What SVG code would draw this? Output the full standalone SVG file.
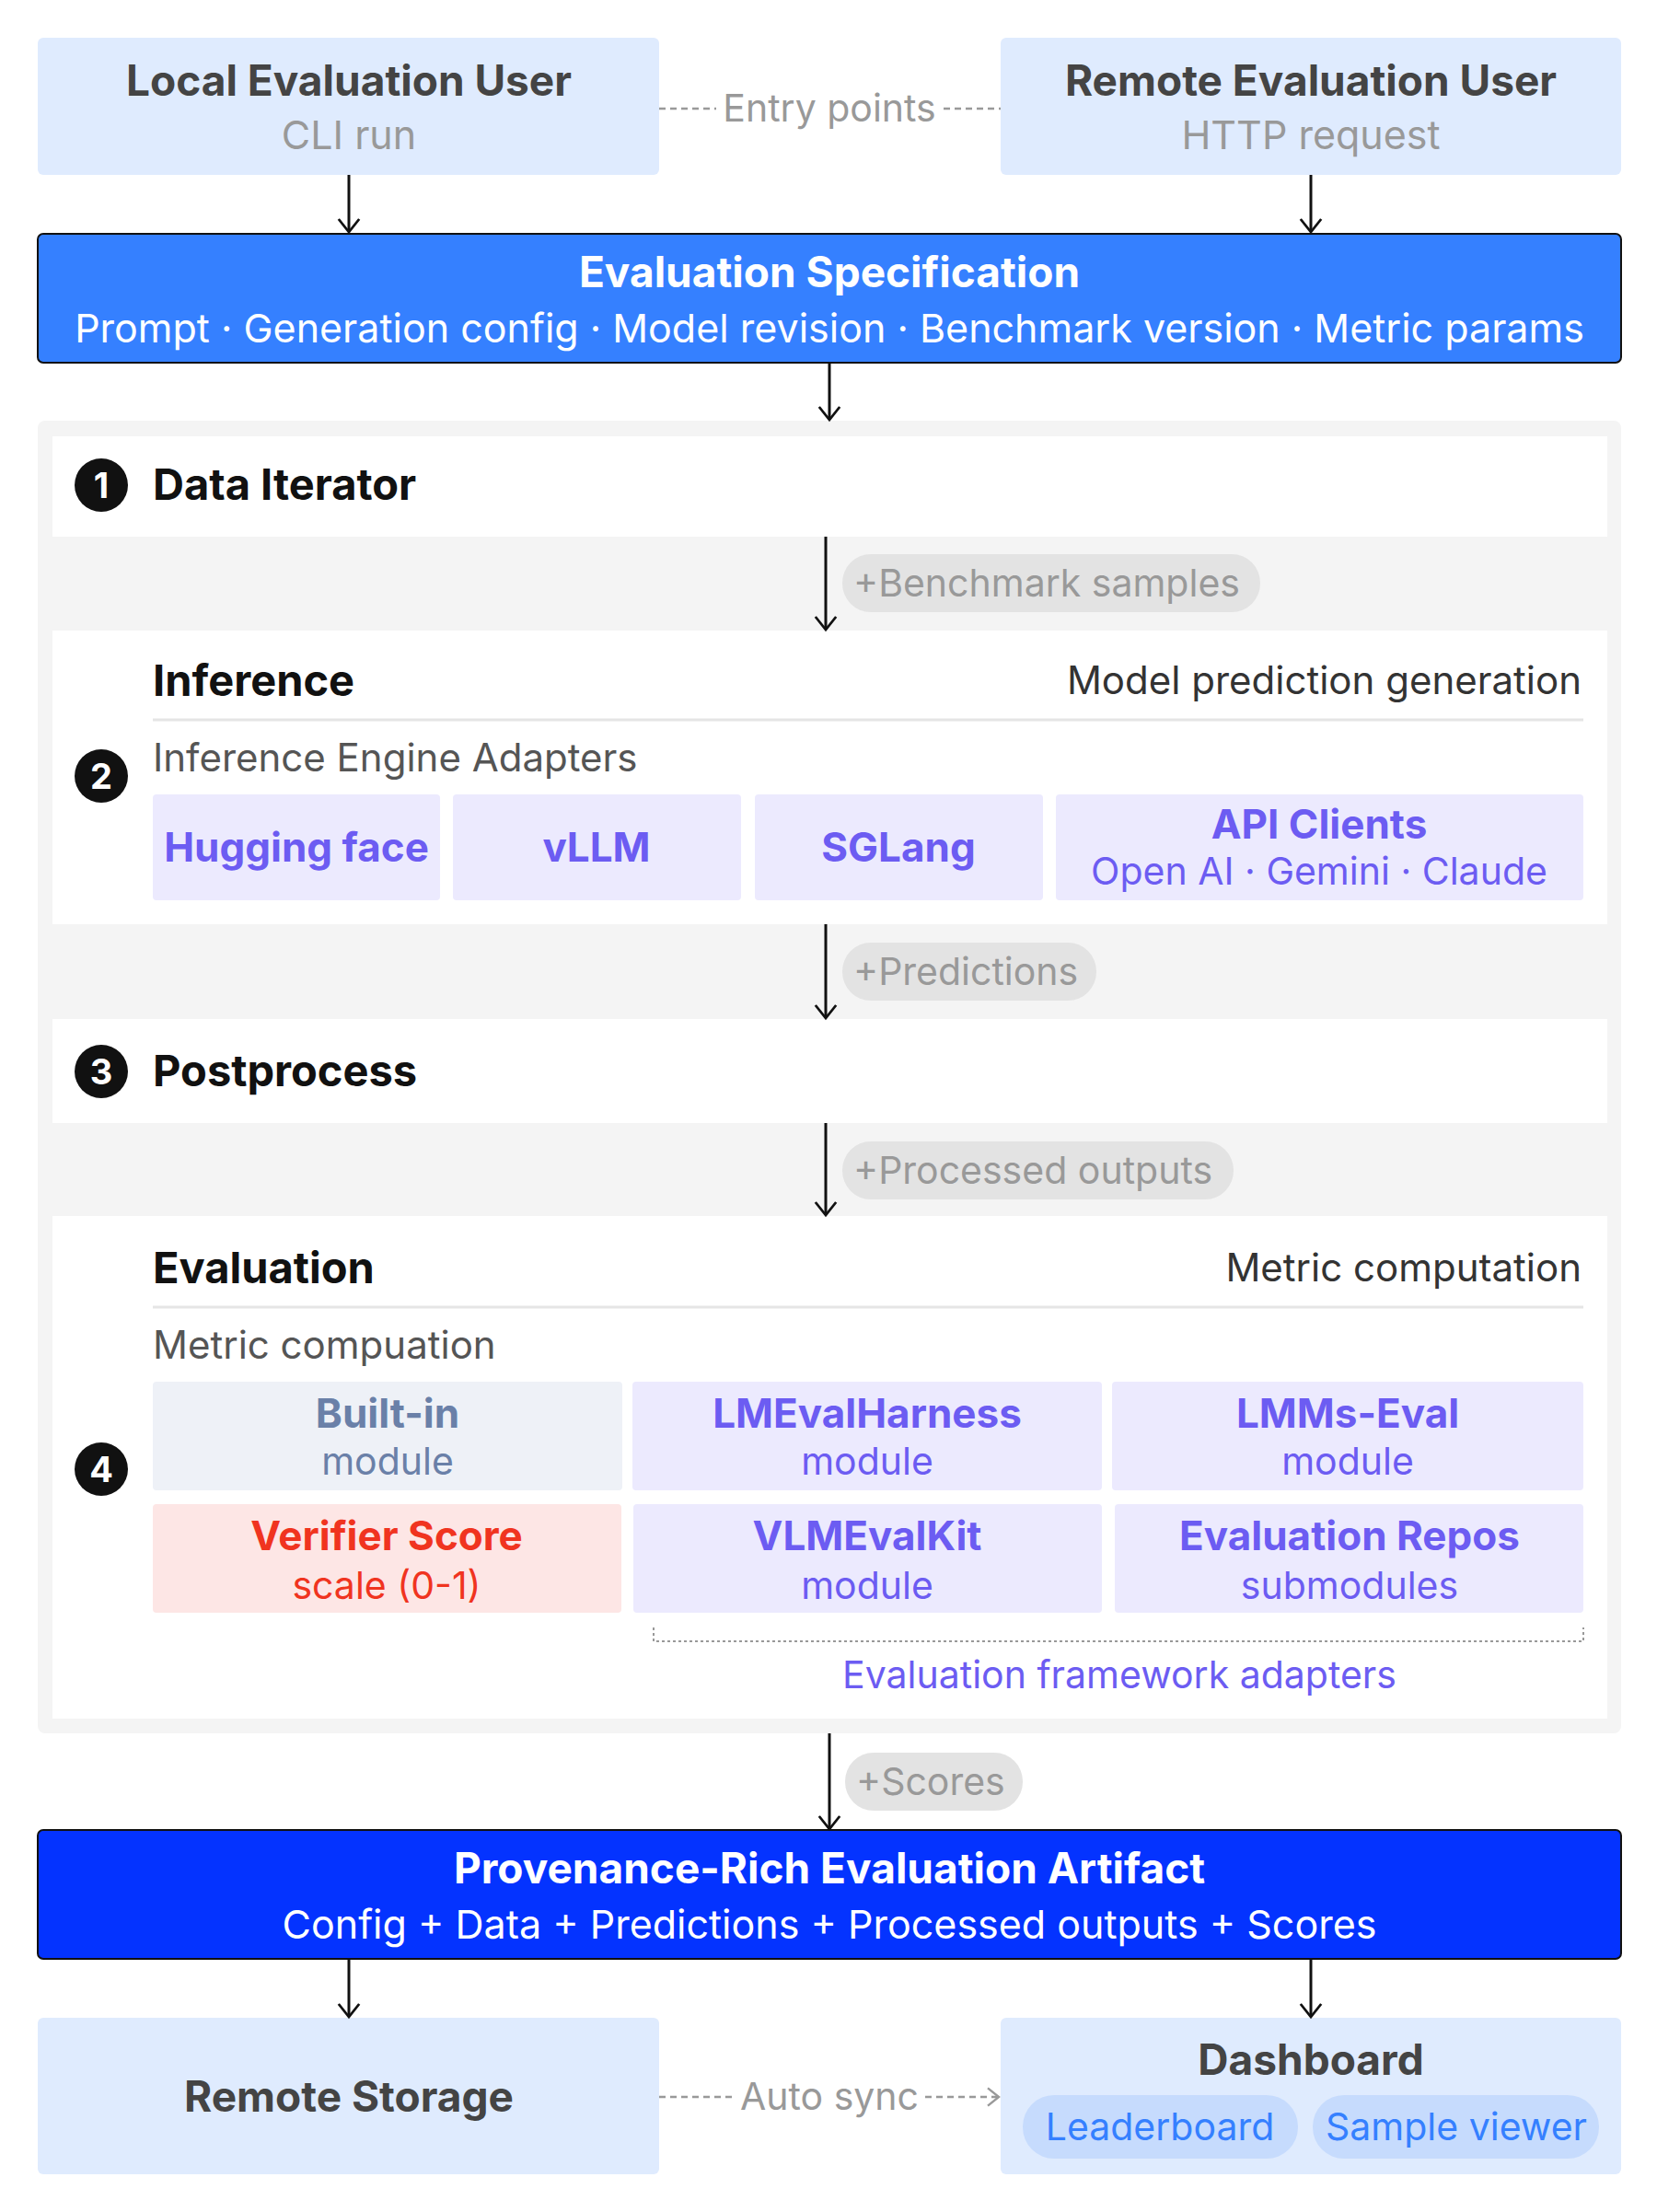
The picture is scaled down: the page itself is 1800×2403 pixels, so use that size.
<svg xmlns="http://www.w3.org/2000/svg" width="1800" height="2403" viewBox="0 0 1800 2403">
<defs>
<marker id="ah" viewBox="0 0 20 20" refX="18" refY="10" markerWidth="28" markerHeight="28" markerUnits="userSpaceOnUse" orient="auto">
<path d="M8,2 L18,10 L8,18" fill="none" stroke="#111" stroke-width="2"/>
</marker>
<marker id="ah2" viewBox="0 0 20 20" refX="18" refY="10" markerWidth="24" markerHeight="24" markerUnits="userSpaceOnUse" orient="auto">
<path d="M8,2 L18,10 L8,18" fill="none" stroke="#999" stroke-width="2"/>
</marker>
</defs>
<style>
text{font-family:Inter,"Noto Sans",sans-serif}
.t{font-size:46px;font-weight:700;fill:#444;text-anchor:middle}
.s{font-size:43px;fill:#999;text-anchor:middle}
.wt{font-size:46px;font-weight:700;fill:#fff;text-anchor:middle}
.ws{font-size:43px;fill:#fff;text-anchor:middle}
.h{font-size:47px;font-weight:700;fill:#111}
.r{font-size:42px;fill:#333;text-anchor:end}
.l{font-size:42px;fill:#555}
.user{fill:#DFEBFE}
.ad{fill:#ECEAFE}
.at{font-size:44px;font-weight:700;fill:#6C5CF2;text-anchor:middle}
.as{font-size:41px;fill:#6C5CF2;text-anchor:middle}
.pill{fill:#E3E3E3}
.pt{font-size:41px;fill:#999}
.arr{stroke:#111;stroke-width:3;fill:none;marker-end:url(#ah)}
.dash{stroke:#999;stroke-width:2.5;stroke-dasharray:7 5;fill:none}
.white{fill:#fff}
.num{font-size:38px;font-weight:700;fill:#fff;text-anchor:middle}
</style>
<g id="local-user"><rect class="user" x="41" y="41" width="675" height="149" rx="6"/><text class="t" x="379" y="104">Local Evaluation User</text><text class="s" x="379" y="162">CLI run</text></g>
<g id="remote-user"><rect class="user" x="1087" y="41" width="674" height="149" rx="6"/><text class="t" x="1424" y="104">Remote Evaluation User</text><text class="s" x="1424" y="162">HTTP request</text></g>
<g id="spec"><rect x="41" y="254" width="1720" height="140" rx="6" fill="#3580FF" stroke="#111" stroke-width="2"/><text class="wt" x="901" y="312">Evaluation Specification</text><text class="ws" x="901" y="372">Prompt ·  Generation config · Model revision · Benchmark version · Metric params</text></g>
<g id="pipeline"><rect x="41" y="457" width="1720" height="1426" rx="8" fill="#F4F4F4"/></g>
<g id="data-iterator"><rect class="white" x="57" y="474" width="1689" height="109"/><circle cx="110" cy="527" r="29" fill="#111"/><text class="num" x="110" y="541">1</text><text class="h" x="166" y="543">Data Iterator</text></g>
<g id="inference"><rect class="white" x="57" y="685" width="1689" height="319"/><text class="h" x="166" y="756">Inference</text><text class="r" x="1718" y="754">Model prediction generation</text><line x1="166" y1="782" x2="1720" y2="782" stroke="#E5E5E5" stroke-width="3"/><text class="l" x="166" y="838">Inference Engine Adapters</text><circle cx="110" cy="843" r="29" fill="#111"/><text class="num" x="110" y="857">2</text>
<rect class="ad" x="166" y="863" width="312" height="115" rx="4"/><text class="at" x="322" y="936">Hugging face</text>
<rect class="ad" x="492" y="863" width="313" height="115" rx="4"/><text class="at" x="648" y="936">vLLM</text>
<rect class="ad" x="820" y="863" width="313" height="115" rx="4"/><text class="at" x="976" y="936">SGLang</text>
<rect class="ad" x="1147" y="863" width="573" height="115" rx="4"/><text class="at" x="1433" y="911">API Clients</text><text class="as" x="1433" y="961">Open AI · Gemini · Claude</text></g>
<g id="postprocess"><rect class="white" x="57" y="1107" width="1689" height="113"/><circle cx="110" cy="1164" r="29" fill="#111"/><text class="num" x="110" y="1178">3</text><text class="h" x="166" y="1180">Postprocess</text></g>
<g id="evaluation"><rect class="white" x="57" y="1321" width="1689" height="546"/><text class="h" x="166" y="1394">Evaluation</text><text class="r" x="1718" y="1392">Metric computation</text><line x1="166" y1="1420" x2="1720" y2="1420" stroke="#E5E5E5" stroke-width="3"/><text class="l" x="166" y="1476">Metric compuation</text><circle cx="110" cy="1596" r="29" fill="#111"/><text class="num" x="110" y="1610">4</text>
<rect x="166" y="1501" width="510" height="118" rx="4" fill="#EEF1F7"/><text class="at" x="421" y="1551" style="fill:#6A80A8">Built-in</text><text class="as" x="421" y="1602" style="fill:#6A80A8">module</text>
<rect class="ad" x="687" y="1501" width="510" height="118" rx="4"/><text class="at" x="942" y="1551">LMEvalHarness</text><text class="as" x="942" y="1602">module</text>
<rect class="ad" x="1208" y="1501" width="512" height="118" rx="4"/><text class="at" x="1464" y="1551">LMMs-Eval</text><text class="as" x="1464" y="1602">module</text>
<rect x="166" y="1634" width="509" height="118" rx="4" fill="#FDE6E5"/><text class="at" x="420" y="1684" style="fill:#F0341F">Verifier Score</text><text class="as" x="420" y="1737" style="fill:#F0341F">scale (0-1)</text>
<rect class="ad" x="688" y="1634" width="509" height="118" rx="4"/><text class="at" x="942" y="1684">VLMEvalKit</text><text class="as" x="942" y="1737">module</text>
<rect class="ad" x="1211" y="1634" width="509" height="118" rx="4"/><text class="at" x="1466" y="1684">Evaluation Repos</text><text class="as" x="1466" y="1737">submodules</text>
<path d="M710,1768 V1783 H1720 V1768" fill="none" stroke="#999" stroke-width="2" stroke-dasharray="3 3"/>
<text class="as" x="1216" y="1834">Evaluation framework adapters</text></g>
<g id="artifact"><rect x="41" y="1988" width="1720" height="140" rx="6" fill="#0433FF" stroke="#111" stroke-width="2"/><text class="wt" x="901" y="2046">Provenance-Rich Evaluation Artifact</text><text class="ws" x="901" y="2106">Config + Data + Predictions + Processed outputs + Scores</text></g>
<g id="remote-storage"><rect class="user" x="41" y="2192" width="675" height="170" rx="6"/><text class="t" x="379" y="2294">Remote Storage</text></g>
<g id="dashboard"><rect class="user" x="1087" y="2192" width="674" height="170" rx="6"/><text class="t" x="1424" y="2254">Dashboard</text>
<rect x="1111" y="2276" width="299" height="69" rx="34" fill="#C6DBFD"/><text class="as" x="1260" y="2325" style="fill:#3580FF">Leaderboard</text>
<rect x="1426" y="2276" width="311" height="69" rx="34" fill="#C6DBFD"/><text class="as" x="1582" y="2325" style="fill:#3580FF">Sample viewer</text></g>
<g id="connectors">
<line class="arr" x1="379" y1="190" x2="379" y2="252"/>
<line class="arr" x1="1424" y1="190" x2="1424" y2="252"/>
<line class="arr" x1="901" y1="394" x2="901" y2="456"/>
<line class="arr" x1="897" y1="583" x2="897" y2="684"/>
<line class="arr" x1="897" y1="1004" x2="897" y2="1106"/>
<line class="arr" x1="897" y1="1220" x2="897" y2="1320"/>
<line class="arr" x1="901" y1="1883" x2="901" y2="1987"/>
<line class="arr" x1="379" y1="2128" x2="379" y2="2191"/>
<line class="arr" x1="1424" y1="2128" x2="1424" y2="2191"/>
<line class="dash" x1="716" y1="118" x2="778" y2="118"/><line class="dash" x1="1025" y1="118" x2="1087" y2="118"/>
<text class="pt" x="901" y="132" text-anchor="middle">Entry points</text>
<line class="dash" x1="716" y1="2278" x2="796" y2="2278"/><line class="dash" x1="1005" y1="2278" x2="1085" y2="2278" marker-end="url(#ah2)"/>
<text class="pt" x="901" y="2292" text-anchor="middle">Auto sync</text>
<rect class="pill" x="915" y="602" width="454" height="63" rx="31"/><text class="pt" x="927" y="648">+Benchmark samples</text>
<rect class="pill" x="915" y="1024" width="276" height="63" rx="31"/><text class="pt" x="927" y="1070">+Predictions</text>
<rect class="pill" x="915" y="1240" width="425" height="63" rx="31"/><text class="pt" x="927" y="1286">+Processed outputs</text>
<rect class="pill" x="918" y="1904" width="193" height="63" rx="31"/><text class="pt" x="930" y="1950">+Scores</text>
</g>
</svg>
